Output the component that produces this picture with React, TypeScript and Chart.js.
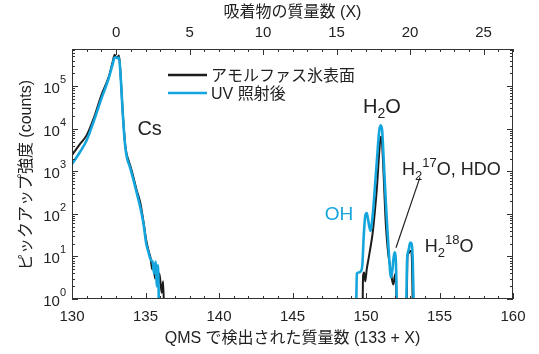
import React, { useEffect, useRef } from 'react';
import { Chart, registerables } from 'chart.js';

Chart.register(...registerables);

// ---- data (mass number, counts) ----
const massAmorphous = [
  130.0, 130.5, 131.0, 131.5, 132.0, 132.5, 132.75, 132.9, 133.0, 133.1, 133.2, 133.3, 133.45, 133.6, 133.7,
  133.85, 134.05, 134.4, 134.65, 134.85, 135.05, 135.2, 135.35, 135.45, 135.55, 135.65, 135.75, 135.85, 135.95,
  136.1, 136.2, 136.3,
  149.75, 149.8, 149.87, 149.95, 150.05, 150.16, 150.3, 150.45, 150.6, 150.75, 150.9, 151.0, 151.05, 151.15,
  151.25, 151.35, 151.5, 151.65, 151.8, 151.87, 151.95, 152.03, 152.1,
  152.75, 152.82, 152.9, 153.0, 153.06, 153.12, 153.2,
];
const countsAmorphous = [
  2400, 4200, 7100, 18600, 62000, 166000, 355000, 550000, 470000, 490000, 525000, 200000, 25000, 5000, 2700,
  1800, 1070, 360, 180, 70, 24, 14, 9, 5, 6, 3, 6, 2, 4,
  1.4, 2.6, 0.2,
  0.2, 3.5, 4.2, 2.6, 5, 8.3, 16, 35, 112, 450, 2800, 6500, 6300, 2000,
  316, 56, 12.6, 5.6, 2.5, 2.2, 3.5, 4, 0.2,
  0.2, 10, 12, 13.5, 13.5, 9, 0.2,
];

const massUV = [
  130.0, 130.5, 131.0, 131.5, 132.0, 132.5, 132.75, 132.9, 133.0, 133.1, 133.2, 133.3, 133.45, 133.6, 133.75,
  133.9, 134.1, 134.4, 134.65, 134.85, 135.05, 135.2, 135.35, 135.5, 135.58, 135.7, 135.76, 135.85, 135.95,
  149.3, 149.38, 149.5, 149.65, 149.75, 149.85, 149.95, 150.05, 150.15, 150.3, 150.45, 150.6, 150.75, 150.9,
  151.0, 151.1, 151.2, 151.3, 151.4, 151.55, 151.7, 151.8, 151.93, 152.03, 152.15,
  152.7, 152.8, 152.9, 153.0, 153.08, 153.18, 153.28,
];
const countsUV = [
  1480, 2700, 5400, 15800, 51000, 155000, 316000, 470000, 480000, 457000, 470000, 190000, 24000, 4500, 2000,
  1400, 800, 316, 140, 63, 20, 12.6, 8.5, 7, 4, 7.6, 2, 6.3, 0.2,
  0.2, 4, 4.2, 4.5, 6.3, 32, 89, 105, 71, 40, 89, 400, 2000, 8900,
  12000, 8900, 2000, 400, 89, 12.6, 3.2, 5, 12.6, 8, 0.2,
  0.2, 9, 14, 21, 21, 8, 0.2,
];

// ---- axes / labels ----
const bottomTicks = [130, 135, 140, 145, 150, 155, 160];
const topTicks = [0, 5, 10, 15, 20, 25];
const yExponents = [0, 1, 2, 3, 4, 5];
const legendLabels = ['アモルファス氷表面', 'UV 照射後'];
const xTitle = 'QMS で検出された質量数 (133 + X)';
const topTitle = '吸着物の質量数 (X)';
const yTitle = 'ピックアップ強度 (counts)';

const BLACK = '#1c1c1c';
const CYAN = '#14a5dd';
const TEXT = '#222222';
const FONT = '"Liberation Sans", "Noto Sans CJK JP", Arial, sans-serif';

type Seg = { t: string; size: number; dy: number };

function drawSegs(ctx: CanvasRenderingContext2D, segs: Seg[], x: number, y: number, color: string) {
  ctx.save();
  ctx.fillStyle = color;
  ctx.textAlign = 'left';
  ctx.textBaseline = 'alphabetic';
  let cx = x;
  for (const s of segs) {
    ctx.font = `${s.size}px ${FONT}`;
    ctx.fillText(s.t, cx, y + s.dy);
    cx += ctx.measureText(s.t).width;
  }
  ctx.restore();
}

const decorPlugin = {
  id: 'decor',
  afterDraw(chart: any) {
    const ctx: CanvasRenderingContext2D = chart.ctx;
    const { left, right, top, bottom } = chart.chartArea;
    const xs = chart.scales.x;
    const xt = chart.scales.xTop;
    const ys = chart.scales.y;
    ctx.save();

    // frame
    ctx.strokeStyle = '#333';
    ctx.lineWidth = 1;
    ctx.strokeRect(left + 0.5, top + 0.5, right - left - 1, bottom - top - 1);

    // x ticks (bottom)
    ctx.beginPath();
    for (let m = 130; m <= 160; m++) {
      const px = Math.round(xs.getPixelForValue(m)) + 0.5;
      const len = m % 5 === 0 ? 6 : 3;
      ctx.moveTo(px, bottom);
      ctx.lineTo(px, bottom - len);
    }
    // top ticks
    for (let X = -3; X <= 27; X++) {
      const px = Math.round(xt.getPixelForValue(X)) + 0.5;
      const len = X % 5 === 0 ? 6 : 3;
      ctx.moveTo(px, top);
      ctx.lineTo(px, top + len);
    }
    // y ticks
    for (let n = 0; n <= 5; n++) {
      for (let k = 1; k <= 9; k++) {
        const v = k * Math.pow(10, n);
        if (v > ys.max) break;
        const py = Math.round(ys.getPixelForValue(v)) + 0.5;
        const len = k === 1 ? 6 : 3;
        ctx.moveTo(left, py);
        ctx.lineTo(left + len, py);
        ctx.moveTo(right, py);
        ctx.lineTo(right - len, py);
      }
    }
    ctx.stroke();

    // tick labels
    ctx.fillStyle = TEXT;
    ctx.font = `15px ${FONT}`;
    ctx.textAlign = 'center';
    ctx.textBaseline = 'alphabetic';
    for (const m of bottomTicks) ctx.fillText(String(m), xs.getPixelForValue(m), bottom + 22);
    for (const X of topTicks) ctx.fillText(String(X), xt.getPixelForValue(X), top - 12);

    for (const n of yExponents) {
      const py = ys.getPixelForValue(Math.pow(10, n));
      ctx.font = `11px ${FONT}`;
      const ew = ctx.measureText(String(n)).width;
      const edge = left - 6;
      ctx.textAlign = 'left';
      ctx.fillText(String(n), edge - ew, py - 3);
      ctx.font = `15px ${FONT}`;
      ctx.textAlign = 'right';
      ctx.fillText('10', edge - ew, py + 7);
    }

    // titles
    ctx.font = `16px ${FONT}`;
    ctx.textAlign = 'center';
    ctx.fillText(xTitle, (left + right) / 2, bottom + 44);
    ctx.fillText(topTitle, (left + right) / 2, top - 32);
    ctx.save();
    ctx.translate(31, (top + bottom) / 2 + 1);
    ctx.rotate(-Math.PI / 2);
    ctx.fillText(yTitle, 0, 0);
    ctx.restore();

    // legend
    const lx0 = left + 96;
    const lx1 = left + 135;
    const ly = [top + 26, top + 44];
    const lc = [BLACK, CYAN];
    ctx.lineWidth = 2.5;
    for (let i = 0; i < 2; i++) {
      ctx.strokeStyle = lc[i];
      ctx.beginPath();
      ctx.moveTo(lx0, ly[i]);
      ctx.lineTo(lx1, ly[i]);
      ctx.stroke();
      ctx.fillStyle = TEXT;
      ctx.font = `16px ${FONT}`;
      ctx.textAlign = 'left';
      ctx.fillText(legendLabels[i], lx1 + 4, ly[i] + 6);
    }

    // annotations (placed in data coordinates)
    const P = (m: number, v: number) => [xs.getPixelForValue(m), ys.getPixelForValue(v)];
    let p = P(134.45, 7000);
    drawSegs(ctx, [{ t: 'Cs', size: 20, dy: 0 }], p[0], p[1], TEXT);
    p = P(149.8, 24000);
    drawSegs(ctx, [{ t: 'H', size: 20, dy: 0 }, { t: '2', size: 14, dy: 5 }, { t: 'O', size: 20, dy: 0 }], p[0], p[1], TEXT);
    p = P(147.2, 70);
    drawSegs(ctx, [{ t: 'OH', size: 19, dy: 0 }], p[0], p[1], CYAN);
    p = P(152.45, 800);
    drawSegs(ctx, [
      { t: 'H', size: 18, dy: 0 }, { t: '2', size: 13, dy: 5 }, { t: '17', size: 13, dy: -8 }, { t: 'O, HDO', size: 18, dy: 0 },
    ], p[0], p[1], TEXT);
    p = P(154.0, 12.6);
    drawSegs(ctx, [
      { t: 'H', size: 18, dy: 0 }, { t: '2', size: 13, dy: 5 }, { t: '18', size: 13, dy: -8 }, { t: 'O', size: 18, dy: 0 },
    ], p[0], p[1], TEXT);
    const a = P(153.67, 720);
    const b = P(152.04, 16);
    ctx.strokeStyle = TEXT;
    ctx.lineWidth = 1.2;
    ctx.beginPath();
    ctx.moveTo(a[0], a[1]);
    ctx.lineTo(b[0], b[1]);
    ctx.stroke();

    ctx.restore();
  },
};

export default function App() {
  const ref = useRef<HTMLCanvasElement | null>(null);
  useEffect(() => {
    if (!ref.current) return;
    const chart = new Chart(ref.current, {
      type: 'line',
      data: {
        datasets: [
          {
            label: legendLabels[1],
            data: massUV.map((m, i) => ({ x: m, y: countsUV[i] })),
            borderColor: CYAN,
            borderWidth: 2.6,
            pointRadius: 0,
            cubicInterpolationMode: 'monotone',
            order: 0,
          },
          {
            label: legendLabels[0],
            data: massAmorphous.map((m, i) => ({ x: m, y: countsAmorphous[i] })),
            borderColor: BLACK,
            borderWidth: 2,
            pointRadius: 0,
            cubicInterpolationMode: 'monotone',
            order: 1,
          },
        ],
      },
      options: {
        animation: false,
        responsive: false,
        events: [],
        layout: { padding: { left: 0, right: 26, top: 0, bottom: 0 } },
        plugins: { legend: { display: false }, tooltip: { enabled: false } },
        scales: {
          x: {
            type: 'linear', position: 'bottom', min: 130, max: 160,
            ticks: { display: false }, grid: { display: false }, border: { display: false },
            afterFit: (s: any) => { s.height = 55; },
          },
          xTop: {
            type: 'linear', position: 'top', min: -3, max: 27,
            ticks: { display: false }, grid: { display: false }, border: { display: false },
            afterFit: (s: any) => { s.height = 49; },
          },
          y: {
            type: 'logarithmic', min: 1, max: 750000,
            ticks: { display: false }, grid: { display: false }, border: { display: false },
            afterFit: (s: any) => { s.width = 72; },
          },
        },
      } as any,
      plugins: [decorPlugin],
    });
    return () => chart.destroy();
  }, []);
  return (
    <div style={{ position: 'absolute', left: 0, top: 0, width: 539, height: 354, background: '#fff' }}>
      <canvas ref={ref} width={539} height={354} style={{ display: 'block' }} />
    </div>
  );
}
